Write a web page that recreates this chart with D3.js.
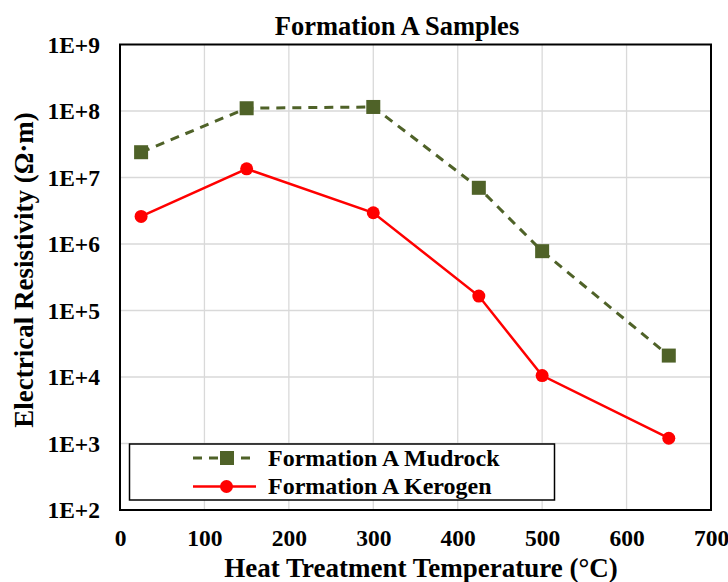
<!DOCTYPE html>
<html><head><meta charset="utf-8">
<script src="https://cdn.jsdelivr.net/npm/d3@7"></script>
<style>body{margin:0;background:#fff}svg{display:block}text{font-family:"Liberation Serif","Times New Roman",serif;font-weight:bold;fill:#000}</style>
</head><body>
<script>
const temps = [25, 150, 300, 425, 500, 650];
const mudrock = [2.4e7, 1.1e8, 1.15e8, 7.0e6, 7.8e5, 2.1e4];
const kerogen = [2.6e6, 1.35e7, 2.95e6, 1.65e5, 1.05e4, 1.2e3];
const xTicks = [0, 100, 200, 300, 400, 500, 600, 700];
const yTicks = [1e2, 1e3, 1e4, 1e5, 1e6, 1e7, 1e8, 1e9];
const yTickLabels = ["1E+2","1E+3","1E+4","1E+5","1E+6","1E+7","1E+8","1E+9"];
const seriesNames = ["Formation A Mudrock", "Formation A Kerogen"];

const W = 728, H = 582;
const m = {l:120, r:17, t:44.5, b:72};
const svg = d3.select("body").append("svg").attr("width", W).attr("height", H);
const x = d3.scaleLinear().domain([0,700]).range([m.l, W - m.r]);
const y = d3.scaleLog().domain([1e2,1e9]).range([H - m.b, m.t]);
const FF = '"Liberation Serif","Times New Roman",serif';

// grid
svg.append("g").selectAll("line").data(xTicks.slice(1,-1)).join("line")
  .attr("x1", d=>x(d)).attr("x2", d=>x(d)).attr("y1", y(1e2)).attr("y2", y(1e9))
  .attr("stroke", "#d9d9d9").attr("stroke-width", 1.3);
svg.append("g").selectAll("line").data(yTicks.slice(1,-1)).join("line")
  .attr("x1", x(0)).attr("x2", x(700)).attr("y1", d=>y(d)).attr("y2", d=>y(d))
  .attr("stroke", "#d9d9d9").attr("stroke-width", 1.3);

// border
svg.append("rect").attr("x", x(0)).attr("y", y(1e9)).attr("width", x(700)-x(0)).attr("height", y(1e2)-y(1e9))
  .attr("fill", "none").attr("stroke", "#000").attr("stroke-width", 2);

// axes labels
const xa = d3.axisBottom(x).tickValues(xTicks).tickSize(0).tickPadding(19);
const gx = svg.append("g").attr("transform", `translate(0,${y(1e2)})`).call(xa);
gx.select(".domain").remove();
gx.selectAll("text").style("font-size","23.5px").style("font-family",FF).style("font-weight","bold").attr("fill","#000");

const ya = d3.axisLeft(y).tickValues(yTicks).tickFormat(d=>yTickLabels[yTicks.indexOf(d)]).tickSize(0).tickPadding(20);
const gy = svg.append("g").attr("transform", `translate(${x(0)},0)`).call(ya);
gy.select(".domain").remove();
gy.selectAll("text").style("font-size","23.5px").style("font-family",FF).style("font-weight","bold").attr("fill","#000");

// titles
svg.append("text").attr("x", 397).attr("y", 35).attr("text-anchor","middle").style("font-size","26.5px").text("Formation A Samples");
svg.append("text").attr("x", 421).attr("y", 576.5).attr("text-anchor","middle").style("font-size","27px").text("Heat Treatment Temperature (°C)");
svg.append("text").attr("transform","translate(33,270) rotate(-90)").attr("text-anchor","middle").style("font-size","27px").text("Electrical Resistivity (Ω·m)");

const line = d3.line().x((d,i)=>x(temps[i])).y(d=>y(d));
// mudrock
svg.append("path").datum(mudrock).attr("d", line).attr("fill","none").attr("stroke","#4f6228").attr("stroke-width",3).attr("stroke-dasharray","9,7");
svg.append("g").selectAll("rect").data(mudrock).join("rect")
  .attr("x",(d,i)=>x(temps[i])-7).attr("y",d=>y(d)-7).attr("width",14).attr("height",14).attr("fill","#4f6228");
// kerogen
svg.append("path").datum(kerogen).attr("d", line).attr("fill","none").attr("stroke","#ff0000").attr("stroke-width",2.5);
svg.append("g").selectAll("circle").data(kerogen).join("circle")
  .attr("cx",(d,i)=>x(temps[i])).attr("cy",d=>y(d)).attr("r",6.5).attr("fill","#ff0000");

// legend
const lg = svg.append("g");
lg.append("rect").attr("x",129.5).attr("y",444).attr("width",425).attr("height",56).attr("fill","#fff").attr("stroke","#000").attr("stroke-width",1.5);
lg.append("line").attr("x1",193).attr("x2",256).attr("y1",458).attr("y2",458).attr("stroke","#4f6228").attr("stroke-width",3).attr("stroke-dasharray","9,7");
lg.append("rect").attr("x",220).attr("y",451).attr("width",14).attr("height",14).attr("fill","#4f6228");
lg.append("line").attr("x1",193).attr("x2",256).attr("y1",486.5).attr("y2",486.5).attr("stroke","#ff0000").attr("stroke-width",2.5);
lg.append("circle").attr("cx",226.5).attr("cy",486.5).attr("r",6.5).attr("fill","#ff0000");
lg.selectAll("text.lt").data(seriesNames).join("text").attr("class","lt")
  .attr("x",268).attr("y",(d,i)=>466 + i*28).style("font-size","24px").text(d=>d);
</script>
</body></html>
